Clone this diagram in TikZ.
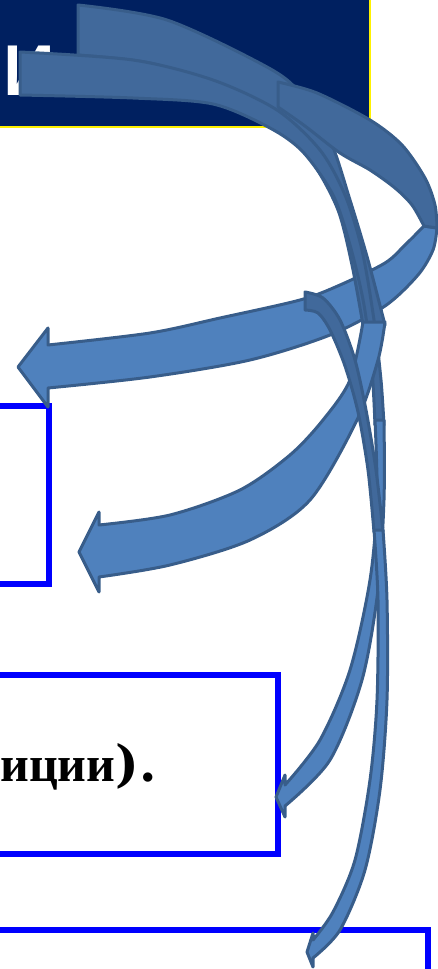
\documentclass[tikz,border=0pt]{standalone}
\usepackage{fontspec}
\setmainfont{Liberation Serif}
\newfontfamily\headfont{Liberation Sans}
\newfontfamily\dotfont{DejaVu Serif}
\definecolor{navy}{HTML}{002060}
\definecolor{boxblue}{HTML}{0000FF}
\definecolor{arrowfill}{HTML}{4F81BD}
\definecolor{arrowback}{HTML}{41699B}
\definecolor{arrowline}{HTML}{385D8A}
\begin{document}
\begin{tikzpicture}[x=0.5pt,y=-0.5pt,
  bluebox/.style={draw=boxblue,line width=3pt},
  backband/.style={fill=arrowback,draw=arrowline,line width=1.5pt,line join=round},
  frontband/.style={fill=arrowfill,draw=arrowline,line width=1.5pt,line join=round}]
  \useasboundingbox (0,0) rectangle (438,969);
  % title bar
  \fill[navy] (0,0) rectangle (370,127);
  \draw[yellow,line width=1pt] (370,-2)--(370,127)--(-2,127);
  \node[anchor=base west,inner sep=0,text=white,
    font=\headfont\bfseries\fontsize{36}{36}\selectfont] (title) at (3,95) {И};
  % boxes
  \draw[bluebox] (-10,406) rectangle (49,584);
  \draw[bluebox] (-10,675) rectangle (277.5,854);
  \draw[bluebox] (-10,930) rectangle (427.5,1000);
  \node[anchor=base west,inner sep=0,font=\bfseries\fontsize{25}{25}\selectfont]
    (boxtext) at (0,781) {иции{\dotfont\fontsize{25}{25}\selectfont ).}};
  % arrow A, front part
  \filldraw[frontband] plot[smooth] coordinates {(424,226) (405,245) (385,263)
    (340,285) (300,300) (220,318) (150,333) (48,345)} -- (48,328) -- (18,367)
    -- (48,407) -- plot[smooth] coordinates {(48,388) (150,377) (250,360)
    (330,335) (385,306) (418,275) (433,250) (437,228)} -- cycle;
  % arrow B, back part
  \filldraw[backband] plot[smooth] coordinates {(78,5) (167,20) (267,67) (300,93)
    (330,140) (350,200) (368,260) (385,325)} -- plot[smooth] coordinates
    {(363,325) (352,265) (338,210) (313,163) (278,122) (220,86) (150,63) (78,55)}
    -- cycle;
  % arrow C, back part
  \filldraw[backband] plot[smooth] coordinates {(20,52) (133,60) (213,80)
    (277,110) (320,150) (345,195) (362,250) (374,320) (381,380) (384,425)}
    -- plot[smooth] coordinates {(375,425) (372,370) (364,305) (350,245)
    (333,195) (303,152) (270,128) (213,104) (133,98) (20,95)} -- cycle;
  % arrow A, back part
  \filldraw[backband] plot[smooth] coordinates {(278,82) (317,93) (370,120)
    (402,145) (425,178) (435,205) (437,228)} -- plot[smooth] coordinates
    {(424,226) (412,205) (395,188) (370,170) (340,153) (305,126) (278,107)}
    -- cycle;
  % arrow B, front part
  \filldraw[frontband] plot[smooth] coordinates {(363,322) (350,380) (323,420)
    (290,455) (240,490) (170,515) (99,525)} -- (99,512) -- (79,552) -- (99,592)
    -- plot[smooth] coordinates {(99,577) (170,565) (250,540) (310,500)
    (357,420) (378,360) (385,322)} -- cycle;
  % arrow C, front part
  \filldraw[frontband] plot[smooth] coordinates {(375,420) (377,500) (370,580)
    (350,670) (320,740) (285,785)} -- (285,775) -- (276,797) -- (285,817)
    -- plot[smooth] coordinates {(285,806) (330,760) (362,680) (378,590)
    (384,500) (384,420)} -- cycle;
  % arrow D
  \filldraw[backband] plot[smooth] coordinates {(305,292) (323,298) (340,320)
    (355,360) (366,410) (376,470) (383,532)} -- plot[smooth] coordinates
    {(374,532) (368,470) (358,412) (345,366) (330,330) (318,313) (305,310)}
    -- cycle;
  \filldraw[frontband] plot[smooth] coordinates {(374,530) (378,600) (377,700)
    (370,780) (355,860) (333,912) (313,940)} -- (313,933) -- (307,952)
    -- (313,967) -- plot[smooth] coordinates {(313,958) (340,930) (365,870)
    (380,790) (387,700) (387,600) (383,530)} -- cycle;
\end{tikzpicture}
\end{document}
